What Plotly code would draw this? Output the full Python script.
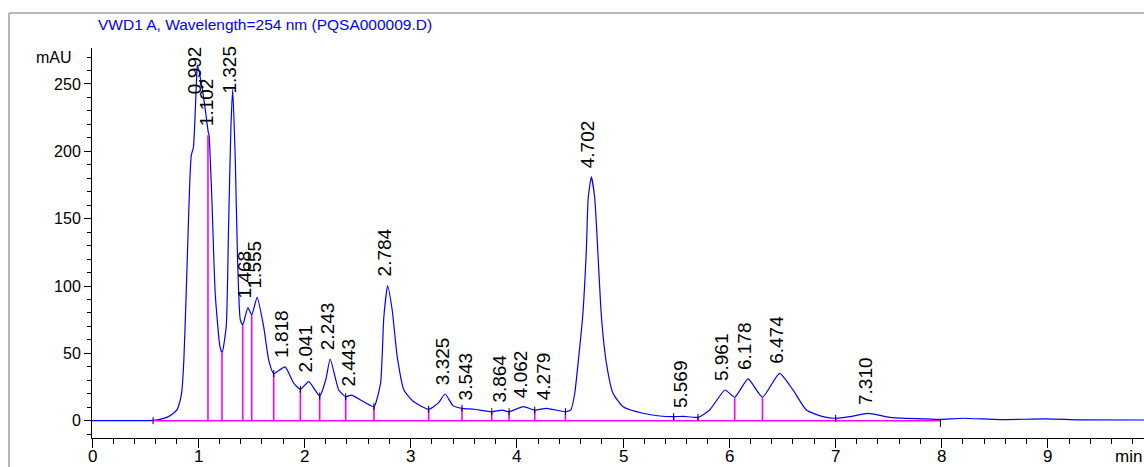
import plotly.graph_objects as go

# ---- data ----
time_min = [0.0, 0.30, 0.50, 0.575, 0.65, 0.72, 0.767, 0.80, 0.83, 0.846, 0.865, 0.885, 0.905, 0.922,
            0.935, 0.955, 0.970, 0.985, 0.992, 1.035, 1.065, 1.095, 1.102, 1.129, 1.160, 1.205, 1.226,
            1.264, 1.286, 1.308, 1.325, 1.349, 1.371, 1.396, 1.419, 1.468, 1.504, 1.555, 1.616, 1.664,
            1.711, 1.818, 1.90, 1.962, 2.041, 2.144, 2.20, 2.243, 2.323, 2.389, 2.443, 2.56, 2.655,
            2.717, 2.748, 2.784, 2.827, 2.874, 2.937, 3.03, 3.170, 3.26, 3.325, 3.40, 3.484, 3.60,
            3.764, 3.864, 3.927, 4.062, 4.169, 4.279, 4.458, 4.509, 4.545, 4.58, 4.62, 4.655, 4.672,
            4.702, 4.733, 4.750, 4.797, 4.844, 4.906, 5.0, 5.188, 5.345, 5.477, 5.569, 5.706, 5.816,
            5.961, 6.052, 6.178, 6.313, 6.474, 6.601, 6.727, 6.883, 7.003, 7.135, 7.310, 7.511, 7.762,
            7.989, 8.202, 8.547, 8.987, 9.30, 9.906]
absorbance = [0.0, 0.0, 0.0, 0.3, 1.2, 3.0, 5.5, 8.0, 15.0, 22.0, 45.0, 90.0, 140.0, 180.0,
              197.0, 203.0, 225.0, 255.0, 264.0, 248.0, 232.0, 214.0, 212.0, 164.0, 94.6, 55.0, 50.5,
              70.0, 144.0, 218.0, 246.0, 194.0, 119.0, 75.0, 71.0, 84.0, 78.5, 91.6, 70.0, 45.0,
              35.0, 40.0, 27.8, 23.3, 29.0, 18.3, 30.0, 45.8, 22.8, 17.8, 19.0, 14.0, 10.4,
              27.8, 77.0, 100.2, 82.0, 47.5, 22.8, 14.0, 8.5, 13.0, 19.8, 11.0, 9.2, 8.5,
              6.7, 7.9, 6.7, 10.4, 7.9, 9.2, 6.7, 8.0, 20.0, 45.0, 77.0, 127.0, 165.0,
              181.0, 166.0, 145.0, 77.0, 42.6, 20.3, 10.4, 5.5, 3.5, 3.0, 3.2, 2.5, 7.9,
              22.8, 17.4, 31.0, 17.4, 35.2, 22.8, 7.9, 3.0, 1.8, 3.0, 5.5, 2.5, 1.5,
              1.0, 1.8, 0.8, 1.3, 0.6, 0.5]

peak_labels = ["0.992", "1.102", "1.325", "1.468", "1.555", "1.818", "2.041", "2.243", "2.443",
               "2.784", "3.325", "3.543", "3.864", "4.062", "4.279", "4.702", "5.569", "5.961",
               "6.178", "6.474", "7.310"]
peak_times = [0.992, 1.102, 1.325, 1.468, 1.555, 1.818, 2.041, 2.243, 2.443, 2.784, 3.325, 3.543,
              3.864, 4.062, 4.279, 4.702, 5.569, 5.961, 6.178, 6.474, 7.310]
peak_heights = [264, 212, 246, 84, 91.6, 40, 29, 45.8, 19, 100.2, 19.8, 8.6, 7.0, 10.3, 8.8,
                181, 3.0, 22.8, 31, 35.2, 5.2]

drop_times = [1.092, 1.224, 1.419, 1.504, 1.711, 1.962, 2.144, 2.389, 2.655, 3.170, 3.484,
              3.764, 3.927, 4.169, 4.458, 5.477, 5.706, 6.052, 6.313, 7.003]
drop_heights = [212, 50.5, 71, 78.5, 35, 23.3, 18.3, 17.8, 10.4, 8.5, 9.2, 6.7, 6.7, 7.9, 6.7,
                3.0, 2.5, 17.4, 17.4, 1.8]

marker_times = [0.575, 1.711, 1.962, 2.144, 2.389, 2.655, 3.170, 3.484, 3.764, 3.927, 4.169,
                4.458, 5.477, 5.706, 7.003, 7.989]
marker_heights = [0.0, 35, 23.3, 18.3, 17.8, 10.4, 8.5, 9.2, 6.7, 6.7, 7.9, 6.7, 3.0, 2.5, 1.8, -2.0]

baseline_start, baseline_end = 0.575, 7.989

x_ticks = [0, 1, 2, 3, 4, 5, 6, 7, 8, 9]
x_unit = "min"
y_ticks = [0, 50, 100, 150, 200, 250]
y_unit = "mAU"
title_text = "VWD1 A, Wavelength=254 nm (PQSA000009.D)"

# ---- figure ----
FONT = "Liberation Sans, Arial, sans-serif"
W, H = 1144, 467
L, R, T, B = 92, 0, 48, 29
PW, PH = W - L - R, H - T - B

def px_x(px):
    return (px - L) / PW

def px_y(py):
    return (H - B - py) / PH

fig = go.Figure()

fig.add_trace(go.Scatter(x=time_min, y=absorbance, mode="lines",
                         line=dict(color="#0000ff", width=1.2, shape="spline", smoothing=0.5),
                         hoverinfo="skip", showlegend=False))

# baseline + drop lines (magenta)
fig.add_trace(go.Scatter(x=[baseline_start, baseline_end], y=[0, 0], mode="lines",
                         line=dict(color="#ff00ff", width=1.6), showlegend=False, hoverinfo="skip"))
dx, dy = [], []
for t, h in zip(drop_times, drop_heights):
    dx += [t, t, None]
    dy += [0, h, None]
fig.add_trace(go.Scatter(x=dx, y=dy, mode="lines", line=dict(color="#ff00ff", width=1.6),
                         showlegend=False, hoverinfo="skip"))

# black peak start/end ticks
mx, my = [], []
for t, h in zip(marker_times, marker_heights):
    mx += [t, t, None]
    my += [h - 2.6, h + 2.6, None]
fig.add_trace(go.Scatter(x=mx, y=my, mode="lines", line=dict(color="black", width=1),
                         showlegend=False, hoverinfo="skip"))

annotations = []
for lab, t, h in zip(peak_labels, peak_times, peak_heights):
    annotations.append(dict(x=t, y=min(h, 236), xref="x", yref="y", text=lab, showarrow=False,
                            textangle=-90, xanchor="center", yanchor="bottom", xshift=-3, yshift=7,
                            font=dict(family=FONT, size=19, color="black")))

# x tick labels (kept fully inside the page)
for v in x_ticks:
    annotations.append(dict(x=v, y=px_y(467), xref="x", yref="paper", text=str(v), showarrow=False,
                            xanchor="center", yanchor="bottom", borderpad=0,
                            font=dict(family=FONT, size=17, color="black")))
annotations.append(dict(x=px_x(1143), y=px_y(467), xref="paper", yref="paper", text=x_unit,
                        showarrow=False, xanchor="right", yanchor="bottom", borderpad=0,
                        font=dict(family=FONT, size=17, color="black")))

annotations.append(dict(x=px_x(96), y=px_y(25), xref="paper", yref="paper", text=title_text,
                        showarrow=False, xanchor="left", yanchor="middle",
                        font=dict(family=FONT, size=15.5, color="#0000ff")))
annotations.append(dict(x=px_x(54), y=px_y(57), xref="paper", yref="paper", text=y_unit,
                        showarrow=False, xanchor="center", yanchor="middle",
                        font=dict(family=FONT, size=16, color="black")))

shapes = [
    dict(type="line", xref="paper", yref="paper", x0=px_x(9), x1=px_x(1150), y0=px_y(13), y1=px_y(13),
         line=dict(color="#a0a0a0", width=1.5)),
    dict(type="line", xref="paper", yref="paper", x0=px_x(9), x1=px_x(9), y0=px_y(13), y1=px_y(470),
         line=dict(color="#a0a0a0", width=1.5)),
]

fig.update_layout(
    width=W, height=H, margin=dict(l=L, r=R, t=T, b=B, pad=0, autoexpand=False),
    paper_bgcolor="white", plot_bgcolor="white",
    showlegend=False, annotations=annotations, shapes=shapes,
    xaxis=dict(range=[0, PW / 106.2], tickvals=x_ticks, showticklabels=False,
               automargin=False,
               showgrid=False, zeroline=False, showline=True, linecolor="black", linewidth=1,
               ticks="outside", ticklen=9, tickcolor="black", tickwidth=1,
               minor=dict(dtick=0.2, tick0=0, ticks="outside", ticklen=5, tickcolor="black", showgrid=False)),
    yaxis=dict(range=[-12.85, 276.7], tickvals=y_ticks, ticktext=[str(v) for v in y_ticks],
               automargin=False,
               showgrid=False, zeroline=False, showline=True, linecolor="black", linewidth=1,
               ticks="outside", ticklen=7, tickcolor="black", tickwidth=1,
               minor=dict(dtick=10, tick0=0, ticks="outside", ticklen=4, tickcolor="black", showgrid=False),
               tickfont=dict(family=FONT, size=16, color="black")),
)

fig.write_html("out.html")
